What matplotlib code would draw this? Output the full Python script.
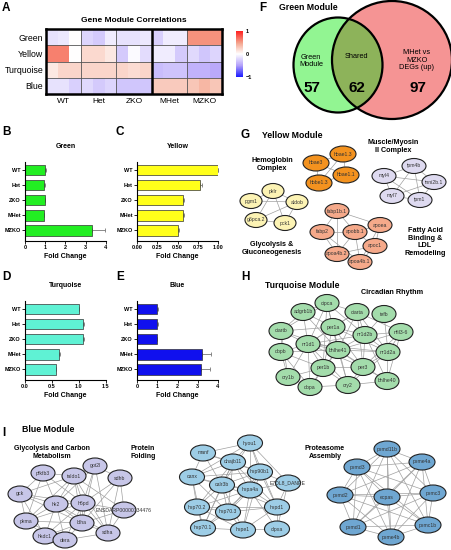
import itertools
import numpy as np
import matplotlib
matplotlib.use('Agg')
import matplotlib.pyplot as plt
from matplotlib.patches import Ellipse
from matplotlib.colors import LinearSegmentedColormap

plt.rcParams['font.family'] = ['Liberation Sans', 'DejaVu Sans']

W, H = 452, 550

# ---------------- data ----------------
groups = ['WT', 'Het', 'ZKO', 'MHet', 'MZKO']
modules = ['Green', 'Yellow', 'Turquoise', 'Blue']
# 3 replicates per group
corr = np.array([
    [-0.15, -0.12, 0.0, -0.22, -0.28, -0.1, -0.15, -0.15, -0.12, -0.25, -0.1, -0.1, 0.55, 0.55, 0.55],
    [0.62, 0.62, 0.0, 0.2, 0.2, 0.12, -0.28, -0.03, -0.18, -0.1, -0.1, -0.28, -0.2, -0.3, -0.22],
    [0.12, 0.22, 0.22, 0.22, 0.22, 0.22, 0.22, 0.18, 0.22, -0.35, -0.32, -0.32, -0.4, -0.4, -0.45],
    [-0.15, -0.15, -0.25, -0.2, -0.28, -0.22, -0.3, -0.3, -0.3, 0.28, 0.28, 0.28, 0.3, 0.38, 0.3],
])

fold_green = [1.0, 0.93, 0.98, 0.93, 3.3]
err_green = [0.02, 0.04, 0.03, 0.02, 0.65]
fold_yellow = [1.0, 0.78, 0.57, 0.57, 0.51]
err_yellow = [0.0, 0.02, 0.01, 0.01, 0.01]
fold_turq = [1.0, 1.07, 1.07, 0.63, 0.57]
err_turq = [0.0, 0.02, 0.02, 0.01, 0.01]
fold_blue = [1.0, 1.0, 0.98, 3.2, 3.15]
err_blue = [0.02, 0.03, 0.03, 0.45, 0.45]

venn_labels = ['Green\nModule', 'Shared', 'MHet vs\nMZKO\nDEGs (up)']
venn_counts = [57, 62, 97]

hemo_edges = [('hbae3', 'hbae1.3'), ('hbae3', 'hbbe1.3'), ('hbae1.3', 'hbae1.1'),
              ('hbae1.1', 'hbbe1.3'), ('hbae3', 'hbae1.1'), ('hbae1.3', 'hbbe1.3')]
muscle_edges = [('tpm4b', 'myl4'), ('tpm4b', 'tnni2b.1'), ('tpm4b', 'myl7'), ('tpm4b', 'tpm1'),
                ('myl4', 'myl7'), ('myl4', 'tnni2b.1'), ('myl4', 'tpm1'), ('myl7', 'tpm1'),
                ('tnni2b.1', 'tpm1'), ('myl7', 'tnni2b.1')]
gluco_edges = [('pklr', 'pgm1'), ('pklr', 'aldob'), ('pklr', 'pck1'), ('pklr', 'g6pca.2'),
               ('pgm1', 'aldob'), ('g6pca.2', 'aldob'), ('g6pca.2', 'pck1'), ('pck1', 'aldob')]
fatty_edges = [('fabp1b.1', 'fabp2'), ('fabp1b.1', 'apobb.1'), ('fabp1b.1', 'apoea'),
               ('fabp1b.1', 'apoa4b.2'), ('fabp2', 'apobb.1'), ('fabp2', 'apoa4b.2'),
               ('apobb.1', 'apoea'), ('apobb.1', 'apoc1'), ('apobb.1', 'apoa4b.2'),
               ('apobb.1', 'apoa4b.1'), ('apoea', 'apoc1'), ('apoc1', 'apoa4b.1'),
               ('apoc1', 'apoa4b.2'), ('apoa4b.2', 'apoa4b.1'), ('fabp2', 'apoa4b.1'),
               ('apoea', 'apoa4b.1')]

circ_links = {
    'cipca': ['adgrb1b', 'ciarta', 'per1a', 'nr1d1', 'bhlhe41', 'ciartb', 'nr1d2b', 'per1b'],
    'adgrb1b': ['ciartb', 'nr1d1', 'per1a', 'bhlhe41'],
    'ciarta': ['per1a', 'nr1d2b', 'nfil3-6', 'bhlhe41', 'nr1d1', 'nr1d2a', 'per3'],
    'tefb': ['nr1d2b', 'nr1d2a'],
    'ciartb': ['nr1d1', 'dbpb', 'per1a', 'bhlhe41', 'cry1b'],
    'per1a': ['nr1d1', 'bhlhe41', 'nr1d2b', 'per1b', 'per3', 'nr1d2a', 'cry2'],
    'nr1d2b': ['bhlhe41', 'nfil3-6', 'nr1d2a', 'per3', 'nr1d1', 'bhlhe40'],
    'nfil3-6': ['nr1d2a', 'bhlhe41', 'bhlhe40', 'per3'],
    'nr1d1': ['bhlhe41', 'dbpb', 'per1b', 'cry1b', 'per3', 'dbpa', 'cry2', 'nr1d2a'],
    'bhlhe41': ['per1b', 'per3', 'nr1d2a', 'cry2', 'dbpb', 'bhlhe40', 'dbpa'],
    'dbpb': ['per1b', 'cry1b', 'dbpa'],
    'nr1d2a': ['per3', 'bhlhe40', 'cry2'],
    'per1b': ['per3', 'cry1b', 'dbpa', 'cry2'],
    'per3': ['cry2', 'bhlhe40'],
    'cry1b': ['dbpa'],
    'cry2': ['bhlhe40', 'dbpa'],
}

carbon_links = {
    'gpt2l': ['taldo1', 'sdhb', 'h6pd', 'ldha', 'hk2', 'sdha'],
    'pfkfb3': ['taldo1', 'gck', 'hk2', 'pkma', 'h6pd'],
    'taldo1': ['hk2', 'h6pd', 'gck', 'ldha', 'pkma', 'sdha', 'ENSDARP00000134476'],
    'sdhb': ['h6pd', 'ENSDARP00000134476', 'sdha', 'ldha'],
    'gck': ['hk2', 'pkma', 'h6pd', 'hkdc1', 'ldha'],
    'hk2': ['h6pd', 'pkma', 'ldha', 'hkdc1', 'dera', 'sdha'],
    'h6pd': ['ldha', 'ENSDARP00000134476', 'pkma', 'dera', 'sdha', 'hkdc1'],
    'ENSDARP00000134476': ['sdha', 'ldha'],
    'pkma': ['ldha', 'hkdc1', 'dera'],
    'ldha': ['sdha', 'hkdc1', 'dera'],
    'hkdc1': ['dera'],
    'dera': ['sdha'],
}

fold_links = {
    'hyou1': ['manf', 'dnajb11', 'hsp90b1', 'calr3b', 'hspa4a', 'canx', 'hspd1', 'E7DL8_DANRE'],
    'manf': ['dnajb11', 'canx', 'calr3b', 'hsp90b1'],
    'dnajb11': ['hsp90b1', 'canx', 'calr3b', 'hspa4a', 'hsp70.2', 'hsp70.3', 'hspd1', 'hsp70.1'],
    'hsp90b1': ['calr3b', 'hspa4a', 'E7DL8_DANRE', 'hspd1', 'hsp70.3', 'canx', 'hspe1'],
    'canx': ['calr3b', 'hsp70.2', 'hspa4a', 'hsp70.3', 'hsp70.1'],
    'calr3b': ['hspa4a', 'hsp70.2', 'hsp70.3', 'hsp70.1', 'hspd1', 'hspe1'],
    'E7DL8_DANRE': ['hspa4a', 'hspd1', 'clpxa'],
    'hspa4a': ['hsp70.3', 'hspd1', 'hsp70.2', 'hsp70.1', 'hspe1', 'clpxa'],
    'hsp70.2': ['hsp70.3', 'hsp70.1', 'hspe1', 'hspd1'],
    'hsp70.3': ['hsp70.1', 'hspe1', 'hspd1'],
    'hspd1': ['hspe1', 'clpxa'],
    'hsp70.1': ['hspe1'],
    'hspe1': ['clpxa'],
}

proteasome_nodes = ['psmd11b', 'psme4a', 'psmd3', 'psmd2', 'ecpas', 'psmc3',
                    'psmd1', 'psmc1b', 'psme4b']

# ---------------- layout (pixel positions of nodes) ----------------
layout = {
    'hbae3': (316, 163), 'hbae1.3': (343, 154), 'hbae1.1': (346, 175), 'hbbe1.3': (319, 183),
    'tpm4b': (414, 166), 'myl4': (384, 176), 'tnni2b.1': (434, 182), 'myl7': (392, 196),
    'tpm1': (420, 200),
    'pklr': (273, 191), 'pgm1': (251, 201), 'aldob': (297, 202), 'g6pca.2': (256, 220),
    'pck1': (285, 223),
    'fabp1b.1': (337, 211), 'apoea': (380, 225), 'fabp2': (322, 232), 'apobb.1': (355, 232),
    'apoc1': (375, 246), 'apoa4b.2': (337, 254), 'apoa4b.1': (360, 262),
    'cipca': (327, 303), 'adgrb1b': (303, 312), 'ciarta': (357, 312), 'tefb': (384, 314),
    'ciartb': (281, 331), 'per1a': (333, 327), 'nr1d2b': (365, 335), 'nfil3-6': (401, 332),
    'nr1d1': (308, 344), 'bhlhe41': (338, 350), 'dbpb': (281, 352), 'nr1d2a': (388, 352),
    'per1b': (323, 368), 'per3': (363, 367), 'cry1b': (288, 377), 'dbpa': (310, 387),
    'cry2': (348, 385), 'bhlhe40': (387, 381),
    'gpt2l': (95, 466), 'pfkfb3': (43, 473), 'taldo1': (74, 476), 'sdhb': (120, 478),
    'gck': (20, 494), 'hk2': (56, 504), 'h6pd': (83, 503), 'ENSDARP00000134476': (124, 510),
    'pkma': (26, 521), 'ldha': (82, 523), 'hkdc1': (45, 536), 'dera': (65, 540),
    'sdha': (108, 533),
    'hyou1': (250, 443), 'manf': (203, 453), 'dnajb11': (233, 462), 'hsp90b1': (260, 472),
    'canx': (192, 477), 'calr3b': (222, 485), 'E7DL8_DANRE': (288, 483), 'hspa4a': (250, 490),
    'hsp70.2': (197, 507), 'hsp70.3': (228, 512), 'hspd1': (277, 507), 'hsp70.1': (203, 528),
    'hspe1': (243, 530), 'clpxa': (277, 529),
    'psmd11b': (387, 449), 'psme4a': (422, 462), 'psmd3': (357, 467), 'psmd2': (340, 495),
    'ecpas': (387, 497), 'psmc3': (433, 493), 'psmd1': (353, 527), 'psmc1b': (428, 525),
    'psme4b': (391, 537),
}


def px_axes(fig, x0, y0, x1, y1):
    return fig.add_axes([x0 / W, 1 - y1 / H, (x1 - x0) / W, (y1 - y0) / H])


def links_to_edges(links):
    return [(a, b) for a, bs in links.items() for b in bs]


def draw_network(ax, edges, color, size, extra_nodes=()):
    nodes = []
    for a, b in edges:
        for n in (a, b):
            if n not in nodes:
                nodes.append(n)
    for n in extra_nodes:
        if n not in nodes:
            nodes.append(n)
    for a, b in edges:
        (xa, ya), (xb, yb) = layout[a], layout[b]
        ax.plot([xa, xb], [ya, yb], color='#a0a0a0', lw=0.5, zorder=2)
    for n in nodes:
        x, y = layout[n]
        ax.add_patch(Ellipse((x, y), size[0], size[1], facecolor=color,
                             edgecolor='#222222', lw=0.8, zorder=3))
        ax.text(x, y, n, fontsize=3.7, ha='center', va='center', color='#333333', zorder=4)


fig = plt.figure(figsize=(W / 100, H / 100), dpi=100)
canvas = fig.add_axes([0, 0, 1, 1])
canvas.set_xlim(0, W)
canvas.set_ylim(H, 0)
canvas.axis('off')

# panel letters
for letter, (x, y) in {'A': (2, 8), 'B': (2, 132), 'C': (116, 132), 'D': (2, 277),
                       'E': (116, 277), 'F': (259, 8), 'G': (241, 135), 'H': (241, 277),
                       'I': (2, 433)}.items():
    canvas.text(x, y, letter, fontsize=8.5, fontweight='bold', ha='left', va='center')

# ---------------- A: heatmap ----------------
cmap = LinearSegmentedColormap.from_list(
    'corr', [(0, '#1a1aff'), (0.25, '#b2a0fa'), (0.5, '#ffffff'), (0.75, '#f4a088'), (1, '#ff2020')])
ax = px_axes(fig, 46, 29, 222, 94)
mesh = ax.pcolormesh(np.arange(corr.shape[1] + 1), np.arange(corr.shape[0] + 1), corr,
                     cmap=cmap, vmin=-1, vmax=1)
ax.set_ylim(corr.shape[0], 0)
ax.set_xticks(np.arange(len(groups)) * 3 + 1.5)
ax.set_xticklabels(groups, fontsize=6)
ax.set_yticks(np.arange(len(modules)) + 0.5)
ax.set_yticklabels(modules, fontsize=6.3)
ax.tick_params(axis='y', length=0, pad=2)
ax.tick_params(axis='x', length=0, pad=3)
for xv in [3, 6, 12]:
    ax.axvline(xv, color='#555555', lw=0.6)
for yv in [1, 2, 3]:
    ax.axhline(yv, color='#555555', lw=0.6)
ax.axvline(9, color='black', lw=1.8)
for s in ax.spines.values():
    s.set_linewidth(1.8)
ax.set_title('Gene Module Correlations', fontsize=6, fontweight='bold', pad=5)

cax = px_axes(fig, 236, 31, 243, 77)
cb = fig.colorbar(mesh, cax=cax, ticks=[-1, 0, 1])
cb.outline.set_visible(False)
cax.tick_params(length=0, labelsize=4, pad=2)
for t in cax.get_yticklabels():
    t.set_fontweight('bold')


# ---------------- B-E: bar charts ----------------
def bar_panel(box, vals, errs, color, title, xmax, xticks, fmt):
    ax = px_axes(fig, *box)
    y = np.arange(len(groups))
    ax.barh(y, vals, height=0.68, color=color, edgecolor='#333333', linewidth=0.5, zorder=2)
    ax.errorbar(vals, y, xerr=[np.zeros(len(errs)), errs], fmt='none', ecolor='#777777',
                elinewidth=0.6, capsize=1.5, capthick=0.6, zorder=1)
    ax.set_ylim(4.7, -0.55)
    ax.set_xlim(0, xmax)
    ax.set_yticks(y)
    ax.set_yticklabels(groups)
    ax.set_xticks(xticks)
    ax.set_xticklabels([fmt.format(v) for v in xticks])
    ax.tick_params(labelsize=4, length=2, width=0.6, pad=1)
    for t in ax.get_xticklabels() + ax.get_yticklabels():
        t.set_fontweight('bold')
    ax.spines['top'].set_visible(False)
    ax.spines['right'].set_visible(False)
    ax.spines['left'].set_linewidth(0.8)
    ax.spines['bottom'].set_linewidth(0.8)
    ax.set_xlabel('Fold Change', fontsize=5, fontweight='bold', labelpad=2)
    ax.set_title(title, fontsize=5, fontweight='bold', pad=10)


bar_panel((25, 162, 106, 241), fold_green, err_green, '#22ee22', 'Green', 4, [0, 1, 2, 3, 4], '{:g}')
bar_panel((137, 162, 218, 241), fold_yellow, err_yellow, '#ffff1a', 'Yellow', 1,
          [0, 0.25, 0.5, 0.75, 1.0], '{:.2f}')
bar_panel((25, 301, 106, 380), fold_turq, err_turq, '#5ff2d4', 'Turquoise', 1.5,
          [0, 0.5, 1.0, 1.5], '{:.1f}')
bar_panel((137, 301, 218, 380), fold_blue, err_blue, '#1010ee', 'Blue', 4, [0, 1, 2, 3, 4], '{:g}')

# ---------------- F: Venn ----------------
canvas.text(279, 8, 'Green Module', fontsize=6.3, fontweight='bold', ha='left', va='center')
red = Ellipse((392, 60), 120, 118, facecolor='#f59494', edgecolor='none', zorder=1)
green = Ellipse((338, 65), 89, 95, facecolor='#92f592', edgecolor='none', zorder=1)
canvas.add_patch(red)
canvas.add_patch(green)
lens = Ellipse((338, 65), 89, 95, facecolor='#8db35a', edgecolor='none', zorder=2)
canvas.add_patch(lens)
lens.set_clip_path(red)
canvas.add_patch(Ellipse((392, 60), 120, 118, fill=False, edgecolor='black', lw=1.6, zorder=3))
canvas.add_patch(Ellipse((338, 65), 89, 95, fill=False, edgecolor='black', lw=1.6, zorder=3))
for (x, y), lab in zip([(311, 61), (356, 56), (417, 60)], venn_labels):
    canvas.text(x, y, lab, fontsize=5.3, ha='center', va='center', linespacing=1.15, zorder=4)
for x, n in zip([312, 357, 418], venn_counts):
    canvas.text(x, 88, str(n), fontsize=11, fontweight='bold', ha='center', va='center', zorder=4)

# ---------------- G: yellow module ----------------
canvas.text(262, 136, 'Yellow Module', fontsize=6.3, fontweight='bold', ha='left', va='center')
canvas.text(393, 146, 'Muscle/Myosin\nII Complex', fontsize=5.2, fontweight='bold', ha='center', va='center')
canvas.text(272, 164, 'Hemoglobin\nComplex', fontsize=5.2, fontweight='bold', ha='center', va='center')
canvas.text(272, 248, 'Glycolysis &\nGluconeogenesis', fontsize=5.2, fontweight='bold', ha='center', va='center')
canvas.text(425, 242, 'Fatty Acid\nBinding &\nLDL\nRemodeling', fontsize=5.2, fontweight='bold',
            ha='center', va='center', linespacing=1.1)
draw_network(canvas, hemo_edges, '#f3921f', (26, 16))
draw_network(canvas, muscle_edges, '#dedaf0', (24, 15))
draw_network(canvas, gluco_edges, '#fcf3b4', (22, 15))
draw_network(canvas, fatty_edges, '#f5a98a', (24, 15))

# ---------------- H: turquoise module ----------------
canvas.text(265, 285, 'Turquoise Module', fontsize=6.2, fontweight='bold', ha='left', va='center')
canvas.text(392, 292, 'Circadian Rhythm', fontsize=5.2, fontweight='bold', ha='center', va='center')
draw_network(canvas, links_to_edges(circ_links), '#a3dcab', (24, 17))

# ---------------- I: blue module ----------------
canvas.text(22, 429, 'Blue Module', fontsize=6.3, fontweight='bold', ha='left', va='center')
canvas.text(52, 452, 'Glycolysis and Carbon\nMetabolism', fontsize=5, fontweight='bold',
            ha='center', va='center')
canvas.text(143, 452, 'Protein\nFolding', fontsize=5, fontweight='bold', ha='center', va='center')
canvas.text(325, 452, 'Proteasome\nAssembly', fontsize=5, fontweight='bold', ha='center', va='center')
draw_network(canvas, links_to_edges(carbon_links), '#c7c6e8', (24, 16))
draw_network(canvas, links_to_edges(fold_links), '#9dcde6', (25, 16))
draw_network(canvas, list(itertools.combinations(proteasome_nodes, 2)), '#6fa7d2', (26, 16))

fig.savefig('out.png', dpi=100)
